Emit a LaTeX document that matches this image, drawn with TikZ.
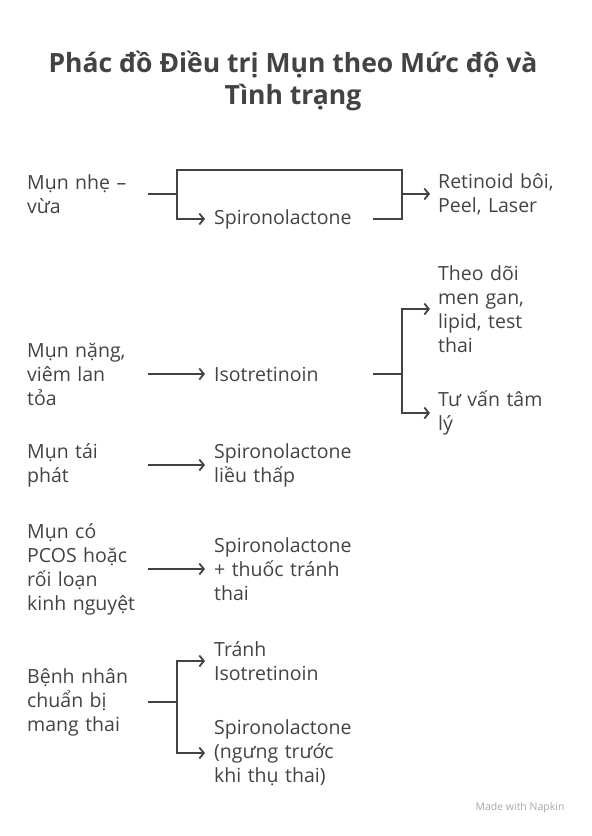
\documentclass[tikz,border=0pt]{standalone}
\usepackage{fontspec}
\setmainfont{Open Sans}
\usetikzlibrary{arrows.meta,positioning}
\definecolor{ink}{HTML}{434343}
\tikzstyle{txt}=[anchor=west,align=left,inner ysep=0pt,text=ink,
  font=\fontsize{19.5}{24}\selectfont]
\tikzstyle{lft}=[txt,inner xsep=0pt,text width=121pt]
\tikzstyle{mid}=[txt,inner xsep=9pt,text width=150pt]
\tikzstyle{rgt}=[txt,inner xsep=8pt,text width=150pt]
\tikzstyle{line}=[draw=ink,line width=1.8pt]
\tikzstyle{arr}=[line,-{Straight Barb[length=4.5pt,width=11pt]}]

\begin{document}
\begin{tikzpicture}[x=1pt,y=-1pt]
  \useasboundingbox (0,0) rectangle (592,836);

  \node[text=ink,align=center,font=\bfseries\fontsize{26.5}{32}\selectfont]
    (title) at (293,81) {Phác đồ Điều trị Mụn theo Mức độ và\\Tình trạng};

  % left column
  \node[lft] (l1) at (27,194) {Mụn nhẹ –\\vừa};
  \node[lft] (l2) at (27,374) {Mụn nặng,\\viêm lan\\tỏa};
  \node[lft] (l3) at (27,465) {Mụn tái\\phát};
  \node[lft] (l4) at (27,569) {Mụn có\\PCOS hoặc\\rối loạn\\kinh nguyệt};
  \node[lft] (l5) at (27,702) {Bệnh nhân\\chuẩn bị\\mang thai};

  % middle column
  \node[mid] (m1) at (205,219) {Spironolactone};
  \node[mid] (m2) at (205,374) {Isotretinoin};
  \node[mid] (m3) at (205,465) {Spironolactone\\liều thấp};
  \node[mid] (m4) at (205,569) {Spironolactone\\+ thuốc tránh\\thai};
  \node[mid] (m5) at (205,661) {Tránh\\Isotretinoin};
  \node[mid] (m6) at (205,753) {Spironolactone\\(ngưng trước\\khi thụ thai)};

  % right column
  \node[rgt] (r1) at (430,194) {Retinoid bôi,\\Peel, Laser};
  \node[rgt] (r2) at (430,309) {Theo dõi\\men gan,\\lipid, test\\thai};
  \node[rgt] (r3) at (430,413) {Tư vấn tâm\\lý};

  \coordinate (s1) at (177,194);
  \coordinate (j1) at (402,194);
  \coordinate (s2) at (402,374);
  \coordinate (s5) at (177,702);

  \draw[line] (l1.east) -- (s1) -- ++(0,-24) -| (j1);
  \draw[arr] (s1) |- (m1.west);
  \draw[line] (m1.east) -| (j1);
  \draw[arr] (j1) -- (r1.west);

  \draw[arr] (l2.east) -- (m2.west);
  \draw[line] (m2.east) -- (s2);
  \draw[arr] (s2) |- (r2.west);
  \draw[arr] (s2) |- (r3.west);

  \draw[arr] (l3.east) -- (m3.west);
  \draw[arr] (l4.east) -- (m4.west);

  \draw[line] (l5.east) -- (s5);
  \draw[arr] (s5) |- (m5.west);
  \draw[arr] (s5) |- (m6.west);

  \node[text=black!35,font=\fontsize{10.5}{12}\selectfont,anchor=east]
    (mark) at (568,808) {Made with Napkin};
\end{tikzpicture}
\end{document}
